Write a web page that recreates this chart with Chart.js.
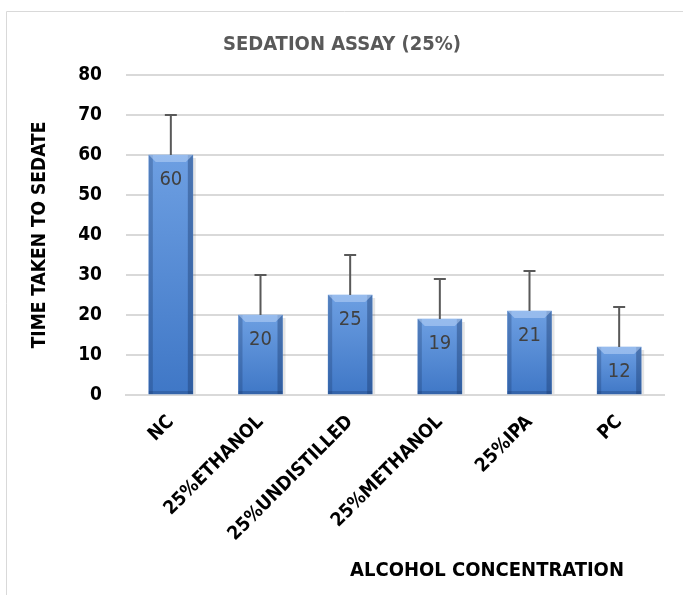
<!DOCTYPE html>
<html lang="en">
<head>
    <meta charset="UTF-8">
    <title>Sedation Assay (25%)</title>
    <script src="https://cdn.jsdelivr.net/npm/chart.js"></script>
    <style>
        body { margin: 0; background: #fff; }
        #wrap { position: relative; width: 683px; height: 595px; }
    </style>
</head>
<body>
    <div id="wrap"><canvas id="myChart" width="683" height="595"></canvas></div>
    <script>
        // data
        const categories = ['NC', '25%ETHANOL', '25%UNDISTILLED', '25%METHANOL', '25%IPA', 'PC'];
        const sedationTimes = [60, 20, 25, 19, 21, 12];
        const errorPlus = [10, 10, 10, 10, 10, 10];
        const yTicks = [0, 10, 20, 30, 40, 50, 60, 70, 80];

        const FONT = "'DejaVu Sans Condensed', 'DejaVu Sans', Arial, sans-serif";

        // outer frame, bevel, error bars and value labels
        const decorPlugin = {
            id: 'decor',
            beforeDraw(chart) {
                const c = chart.ctx;
                c.save();
                c.strokeStyle = '#d9d9d9';
                c.lineWidth = 1;
                c.beginPath();
                c.moveTo(6.5, 595);
                c.lineTo(6.5, 11.5);
                c.lineTo(683, 11.5);
                c.stroke();
                c.restore();
            },
            afterDatasetsDraw(chart) {
                const c = chart.ctx;
                const meta = chart.getDatasetMeta(0);
                const y = chart.scales.y;
                c.save();
                meta.data.forEach((bar, i) => {
                    const half = bar.width / 2;
                    const l = bar.x - half, r = bar.x + half, t = bar.y, b = bar.base;
                    // soft shadow on the right
                    c.fillStyle = 'rgba(0,0,0,0.10)';
                    c.fillRect(r, t + 3, 3, b - t - 3);
                    // darker side edges
                    c.fillStyle = 'rgba(25,55,105,0.30)';
                    c.fillRect(l, t, 4, b - t);
                    c.fillStyle = 'rgba(25,55,105,0.40)';
                    c.fillRect(r - 5, t, 5, b - t);
                    c.fillStyle = 'rgba(25,55,105,0.30)';
                    c.fillRect(l, b - 3, r - l, 3);
                    // lighter top bevel
                    c.fillStyle = 'rgba(185,212,248,0.55)';
                    c.beginPath();
                    c.moveTo(l, t);
                    c.lineTo(r, t);
                    c.lineTo(r - 7, t + 7);
                    c.lineTo(l + 7, t + 7);
                    c.closePath();
                    c.fill();
                    // error bar (plus only)
                    const top = y.getPixelForValue(sedationTimes[i] + errorPlus[i]);
                    c.strokeStyle = '#595959';
                    c.lineWidth = 2;
                    c.beginPath();
                    c.moveTo(bar.x, t);
                    c.lineTo(bar.x, top);
                    c.moveTo(bar.x - 6, top);
                    c.lineTo(bar.x + 6, top);
                    c.stroke();
                    // value label
                    c.fillStyle = '#404040';
                    c.font = "20px " + FONT;
                    c.textAlign = 'center';
                    c.textBaseline = 'middle';
                    c.fillText(String(sedationTimes[i]), bar.x, t + 25);
                });
                // x axis title
                c.fillStyle = '#000';
                c.font = "bold 20px " + FONT;
                c.textAlign = 'center';
                c.textBaseline = 'middle';
                c.fillText('ALCOHOL CONCENTRATION', 487, 571);
                c.restore();
            }
        };

        const ctx = document.getElementById('myChart').getContext('2d');
        const myChart = new Chart(ctx, {
            type: 'bar',
            data: {
                labels: categories,
                datasets: [{
                    data: sedationTimes,
                    backgroundColor: (context) => {
                        const chart = context.chart;
                        const ys = chart.scales.y;
                        if (!chart.chartArea || !ys || context.raw === undefined) return '#4f81bd';
                        const g = chart.ctx.createLinearGradient(0, ys.getPixelForValue(context.raw), 0, ys.getPixelForValue(0));
                        g.addColorStop(0, '#6d9fe2');
                        g.addColorStop(1, '#3f77c6');
                        return g;
                    },
                    borderWidth: 0,
                    barThickness: 44
                }]
            },
            options: {
                responsive: false,
                animation: false,
                layout: { padding: { top: 1, left: 20, right: 19, bottom: 0 } },
                plugins: {
                    legend: { display: false },
                    tooltip: { enabled: false },
                    title: {
                        display: true,
                        text: 'SEDATION ASSAY (25%)',
                        color: '#595959',
                        font: { family: FONT, size: 20, weight: 'bold' },
                        padding: { top: 32, bottom: 18 }
                    }
                },
                scales: {
                    x: {
                        grid: { display: false },
                        border: { display: true, color: '#d9d9d9', width: 2 },
                        ticks: {
                            color: '#000',
                            minRotation: 45,
                            maxRotation: 45,
                            padding: 8,
                            font: { family: FONT, size: 19, weight: 'bold' }
                        },
                        afterFit: (scale) => { scale.height = 200; }
                    },
                    y: {
                        min: 0,
                        max: 80,
                        afterBuildTicks: (scale) => { scale.ticks = yTicks.map(v => ({ value: v })); },
                        grid: { color: '#d9d9d9', lineWidth: 2, drawTicks: false },
                        border: { display: false },
                        ticks: {
                            color: '#000',
                            padding: 24,
                            font: { family: FONT, size: 19, weight: 'bold' }
                        },
                        title: {
                            display: true,
                            text: 'TIME TAKEN TO SEDATE',
                            color: '#000',
                            font: { family: FONT, size: 19, weight: 'bold' },
                            padding: { top: 9, bottom: 0 }
                        },
                        afterFit: (scale) => { scale.width = 106; }
                    }
                }
            },
            plugins: [decorPlugin]
        });
    </script>
</body>
</html>
